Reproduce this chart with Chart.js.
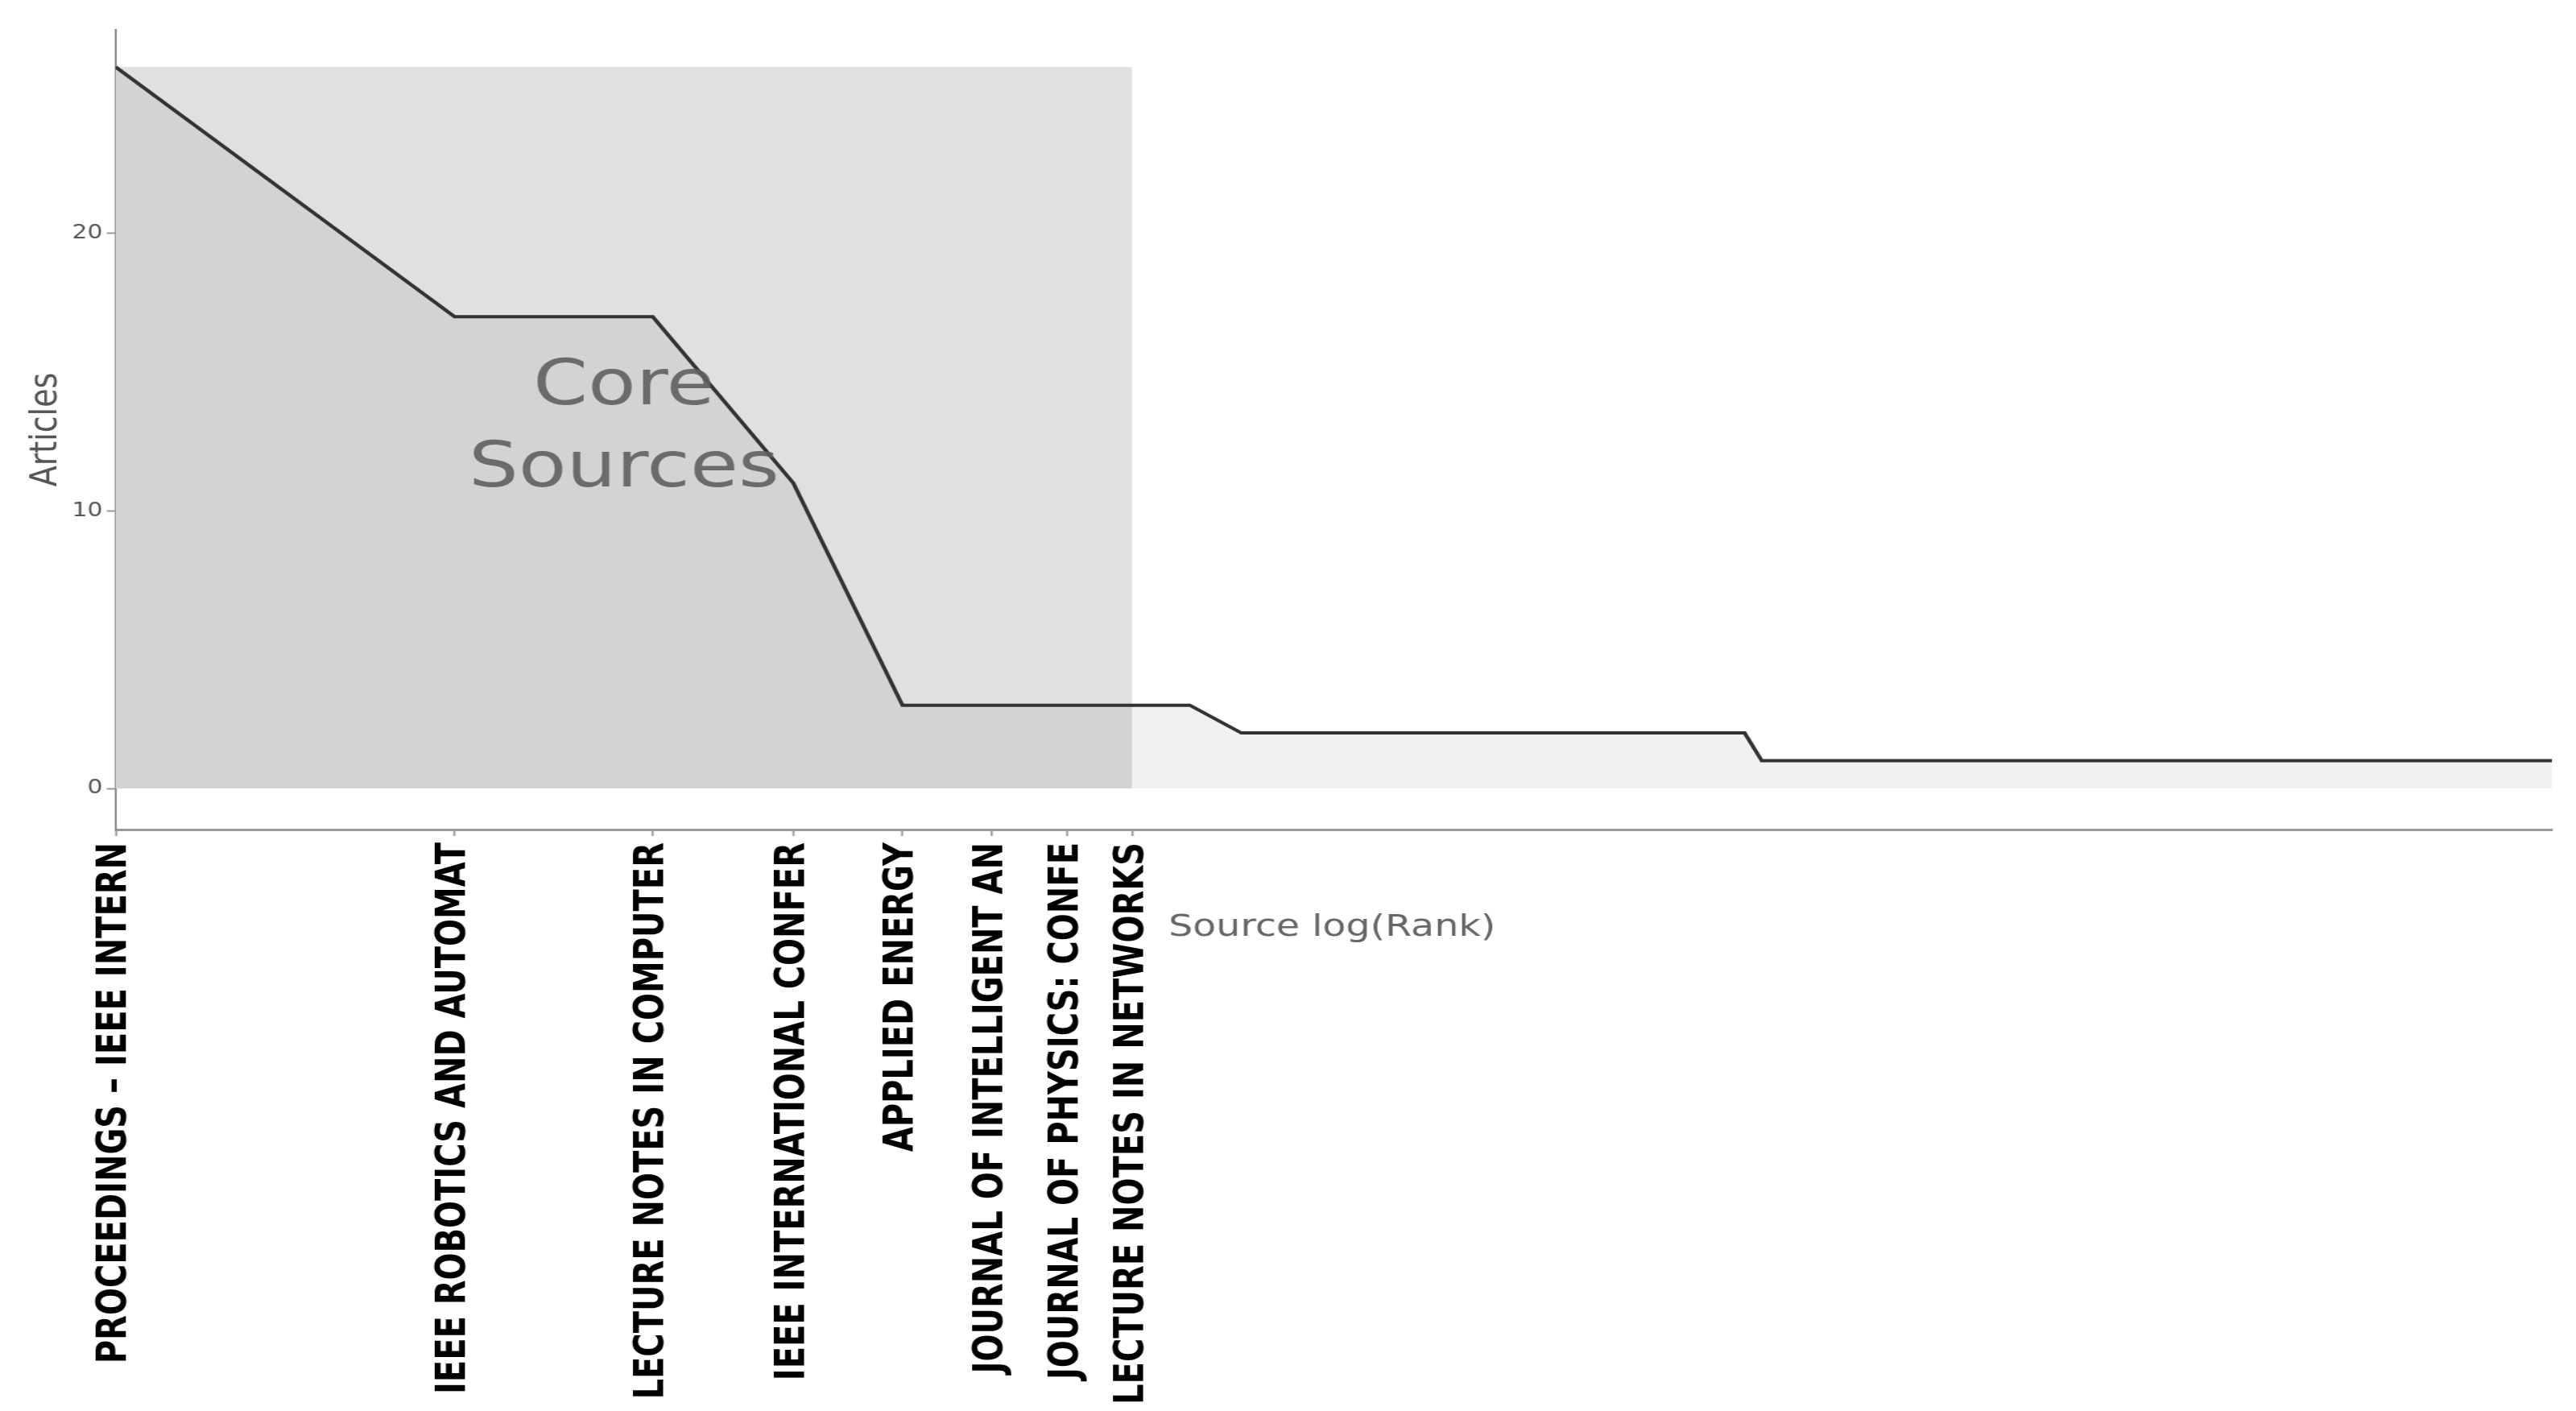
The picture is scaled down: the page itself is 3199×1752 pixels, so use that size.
<!DOCTYPE html>
<html>
<head>
<meta charset="utf-8">
<script src="https://cdn.jsdelivr.net/npm/chart.js@4.4.1/dist/chart.umd.min.js"></script>
<style>
  body { margin: 0; background: #fff; }
</style>
</head>
<body>
<!-- drawn at 2560 wide and stretched to 3199, like the reference -->
<canvas id="bradford" width="2560" height="1752" style="width:3199px;height:1752px;display:block"></canvas>
<script>
// core sources (zone 1), labels as cut in the picture
const coreSources = [
  'PROCEEDINGS \u2013 IEEE INTERN',
  'IEEE ROBOTICS AND AUTOMAT',
  'LECTURE NOTES IN COMPUTER',
  'IEEE INTERNATIONAL CONFER',
  'APPLIED ENERGY',
  'JOURNAL OF INTELLIGENT AN',
  'JOURNAL OF PHYSICS: CONFE',
  'LECTURE NOTES IN NETWORKS'
];

// articles per source, sorted by rank (1..146)
const articles = [
  26, 17, 17, 11, 3, 3, 3, 3, 3,
  2, 2, 2, 2, 2, 2, 2, 2, 2, 2, 2, 2, 2, 2, 2, 2, 2, 2, 2,
  1, 1, 1, 1, 1, 1, 1, 1, 1, 1, 1, 1, 1, 1, 1, 1, 1, 1, 1, 1,
  1, 1, 1, 1, 1, 1, 1, 1, 1, 1, 1, 1, 1, 1, 1, 1, 1, 1, 1, 1,
  1, 1, 1, 1, 1, 1, 1, 1, 1, 1, 1, 1, 1, 1, 1, 1, 1, 1, 1, 1,
  1, 1, 1, 1, 1, 1, 1, 1, 1, 1, 1, 1, 1, 1, 1, 1, 1, 1, 1, 1,
  1, 1, 1, 1, 1, 1, 1, 1, 1, 1, 1, 1, 1, 1, 1, 1, 1, 1, 1, 1,
  1, 1, 1, 1, 1, 1, 1, 1, 1, 1, 1, 1, 1, 1, 1, 1, 1, 1
];

const yTicks = [0, 10, 20];

const linePoints = articles.map((a, i) => ({ x: Math.log(i + 1), y: a }));
const coreEnd = Math.log(coreSources.length);
const coreTop = Math.max(...articles);
const coreBox = [{ x: 0, y: coreTop }, { x: coreEnd, y: coreTop }];

const extraText = {
  id: 'extraText',
  afterDatasetsDraw(chart) {
    const ctx = chart.ctx;
    const xs = chart.scales.x, ys = chart.scales.y;
    const cx = xs.getPixelForValue(coreEnd / 2);
    const cy = ys.getPixelForValue(coreTop / 2);
    ctx.save();
    ctx.font = '78px "DejaVu Sans"';
    ctx.fillStyle = 'rgba(95,95,95,0.9)';
    ctx.textAlign = 'center';
    ctx.textBaseline = 'alphabetic';
    ctx.fillText('Core', cx, cy - 29);
    ctx.fillText('Sources', cx, cy + 73);
    ctx.restore();
  },
  afterDraw(chart) {
    const ctx = chart.ctx;
    const xs = chart.scales.x;
    ctx.save();
    ctx.font = '38px "DejaVu Sans"';
    ctx.fillStyle = '#666';
    ctx.textAlign = 'left';
    ctx.textBaseline = 'middle';
    ctx.fillText('Source log(Rank)', xs.getPixelForValue(coreEnd) + 36, 1152);
    ctx.restore();
  }
};

new Chart(document.getElementById('bradford'), {
  type: 'line',
  data: {
    datasets: [{
      data: linePoints,
      borderColor: '#333',
      borderWidth: 4,
      backgroundColor: 'rgba(0,0,0,0.055)',
      fill: 'origin',
      pointRadius: 0,
      tension: 0,
      order: 0
    }, {
      data: coreBox,
      borderWidth: 0,
      borderColor: 'rgba(0,0,0,0)',
      backgroundColor: '#e0e0e0',
      fill: 'origin',
      pointRadius: 0,
      order: 1
    }]
  },
  options: {
    responsive: false,
    animation: false,
    devicePixelRatio: 1,
    layout: { padding: { top: 37, right: 24, bottom: 0, left: 0 } },
    plugins: { legend: { display: false }, tooltip: { enabled: false } },
    scales: {
      x: {
        type: 'linear',
        min: 0,
        max: Math.log(articles.length),
        afterBuildTicks: (scale) => {
          scale.ticks = coreSources.map((_, i) => ({ value: Math.log(i + 1) }));
        },
        afterFit: (scale) => { scale.height = 1752 - 1030; },
        grid: { drawOnChartArea: false, tickLength: 8, tickColor: '#999', tickWidth: 2 },
        border: { color: '#999', width: 3 },
        ticks: {
          autoSkip: false,
          minRotation: 90,
          maxRotation: 90,
          padding: 8,
          color: '#000',
          font: { family: 'DejaVu Sans', size: 40, weight: 'bold' },
          callback: (value, index) => coreSources[index]
        }
      },
      y: {
        min: -1.48,
        max: 27.34,
        afterBuildTicks: (scale) => {
          scale.ticks = yTicks.map(v => ({ value: v }));
        },
        afterFit: (scale) => { scale.width = 115; },
        grid: { drawOnChartArea: false, tickLength: 9, tickColor: '#999', tickWidth: 2 },
        border: { color: '#888', width: 2 },
        ticks: {
          padding: 4,
          color: '#555',
          font: { family: 'DejaVu Sans', size: 24 }
        },
        title: {
          display: true,
          text: 'Articles',
          color: '#555',
          padding: { top: 23, bottom: 0 },
          font: { family: 'DejaVu Sans', size: 38 }
        }
      }
    }
  },
  plugins: [extraText]
});
</script>
</body>
</html>
